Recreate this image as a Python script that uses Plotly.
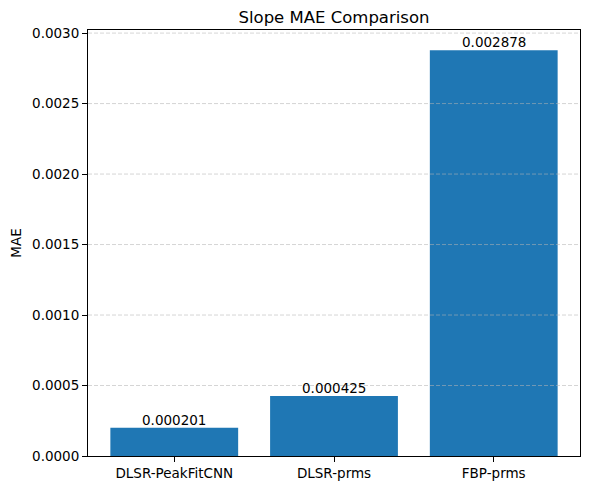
import plotly.graph_objects as go

categories = ["DLSR-PeakFitCNN", "DLSR-prms", "FBP-prms"]
mae_values = [0.000201, 0.000425, 0.002878]
y_ticks = [0.0, 0.0005, 0.0010, 0.0015, 0.0020, 0.0025, 0.0030]

FONT = "DejaVu Sans"
x_idx = list(range(len(categories)))
ymax = max(mae_values) * 1.05

fig = go.Figure()
fig.add_trace(go.Bar(
    x=x_idx, y=mae_values, width=0.8,
    marker=dict(color="#1f77b4", line=dict(width=0)),
    hoverinfo="skip",
))

for xi, v in zip(x_idx, mae_values):
    fig.add_annotation(x=xi, y=v, xref="x", yref="y", text=f"{v:.6f}",
                       showarrow=False, yanchor="bottom", yshift=-2,
                       font=dict(family=FONT, size=13.5, color="black"))

shapes = []
for t in y_ticks:
    if t > 0:
        shapes.append(dict(type="line", xref="paper", x0=0, x1=1, yref="y", y0=t, y1=t,
                           line=dict(color="rgba(180,180,180,0.7)", width=0.8, dash="4px,2px"),
                           layer="above"))

fig.update_layout(
    width=590, height=490,
    margin=dict(l=88, r=10, t=30, b=34),
    paper_bgcolor="white", plot_bgcolor="white",
    font=dict(family=FONT, size=13.5, color="black"),
    title=dict(text="Slope MAE Comparison", x=(88 + 580) / 2 / 590, xanchor="center",
               y=1 - 17 / 490, yanchor="middle", font=dict(size=16.5, family=FONT)),
    showlegend=False,
    shapes=shapes,
    xaxis=dict(
        range=[-0.54, 2.54], tickmode="array", tickvals=x_idx, ticktext=categories,
        showline=True, linecolor="black", linewidth=1, mirror=True,
        ticks="outside", ticklen=5, tickwidth=1, tickcolor="black",
        showgrid=False, zeroline=False,
    ),
    yaxis=dict(
        range=[0, ymax], tickmode="array", tickvals=y_ticks,
        ticktext=[f"{v:.4f}" for v in y_ticks],
        showline=True, linecolor="black", linewidth=1, mirror=True,
        ticks="outside", ticklen=5, tickwidth=1, tickcolor="black",
        showgrid=False, zeroline=False,
        title=dict(text="MAE", standoff=7, font=dict(size=13.5)),
    ),
)

fig.write_html("out.html")
